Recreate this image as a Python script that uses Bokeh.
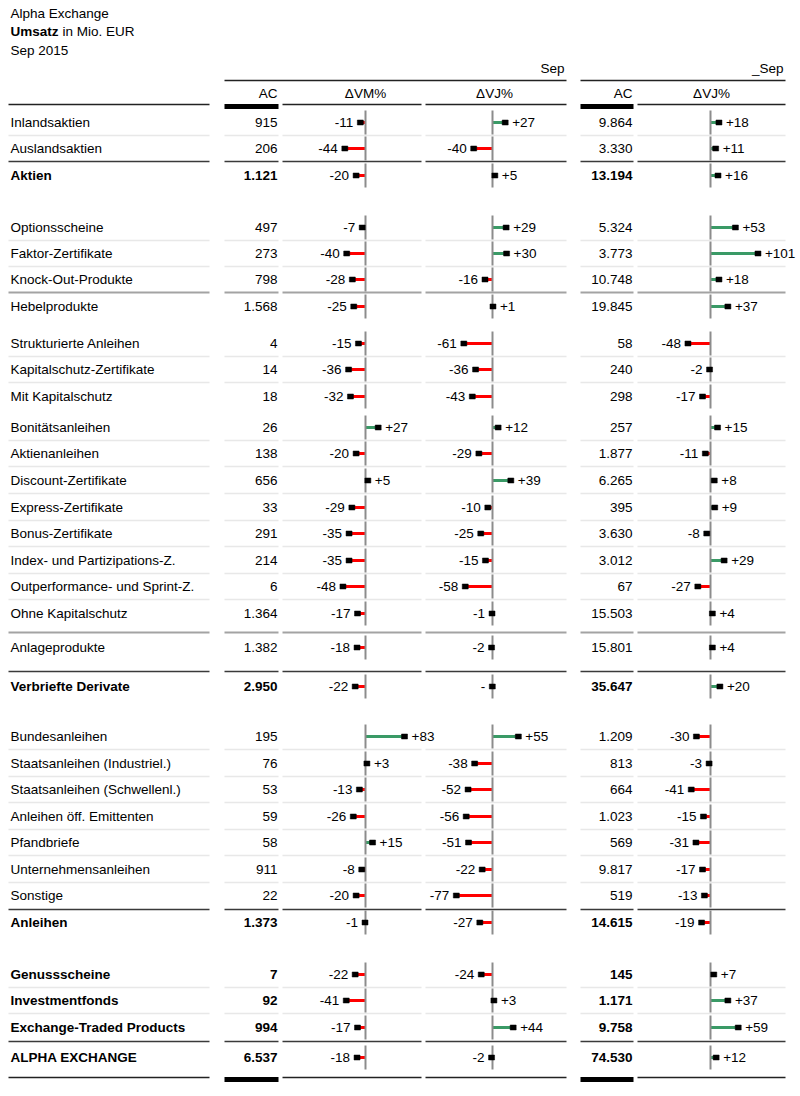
from bokeh.plotting import figure
from bokeh.models import Range1d, ColumnDataSource
from bokeh.core.properties import value
from bokeh.embed import file_html
from bokeh.resources import INLINE

# ---------------- data ----------------
labels = ["Inlandsaktien", "Auslandsaktien", "Aktien",
          "Optionsscheine", "Faktor-Zertifikate", "Knock-Out-Produkte", "Hebelprodukte",
          "Strukturierte Anleihen", "Kapitalschutz-Zertifikate", "Mit Kapitalschutz",
          "Bonitätsanleihen", "Aktienanleihen", "Discount-Zertifikate", "Express-Zertifikate",
          "Bonus-Zertifikate", "Index- und Partizipations-Z.", "Outperformance- und Sprint-Z.",
          "Ohne Kapitalschutz", "Anlageprodukte", "Verbriefte Derivate",
          "Bundesanleihen", "Staatsanleihen (Industriel.)", "Staatsanleihen (Schwellenl.)",
          "Anleihen öff. Emittenten", "Pfandbriefe", "Unternehmensanleihen", "Sonstige", "Anleihen",
          "Genussscheine", "Investmentfonds", "Exchange-Traded Products", "ALPHA EXCHANGE"]
bold_rows = ["Aktien", "Verbriefte Derivate", "Anleihen", "Genussscheine",
             "Investmentfonds", "Exchange-Traded Products", "ALPHA EXCHANGE"]
ac_month = [915, 206, 1121, 497, 273, 798, 1568, 4, 14, 18, 26, 138, 656, 33, 291, 214, 6,
            1364, 1382, 2950, 195, 76, 53, 59, 58, 911, 22, 1373, 7, 92, 994, 6537]
d_vm = [-11, -44, -20, -7, -40, -28, -25, -15, -36, -32, 27, -20, 5, -29, -35, -35, -48,
        -17, -18, -22, 83, 3, -13, -26, 15, -8, -20, -1, -22, -41, -17, -18]
d_vj = [27, -40, 5, 29, 30, -16, 1, -61, -36, -43, 12, -29, 39, -10, -25, -15, -58,
        -1, -2, -0.4, 55, -38, -52, -56, -51, -22, -77, -27, -24, 3, 44, -2]
ac_ytd = [9864, 3330, 13194, 5324, 3773, 10748, 19845, 58, 240, 298, 257, 1877, 6265, 395,
          3630, 3012, 67, 15503, 15801, 35647, 1209, 813, 664, 1023, 569, 9817, 519, 14615,
          145, 1171, 9758, 74530]
d_vj_ytd = [18, 11, 16, 53, 101, 18, 37, -48, -2, -17, 15, -11, 8, 9, -8, 29, -27, 4, 4, 20,
            -30, -3, -41, -15, -31, -17, -13, -19, 7, 37, 59, 12]

title_lines = ["Alpha Exchange", "Umsatz", "in Mio. EUR", "Sep 2015"]
period_labels = ["Sep", "_Sep"]
col_headers = ["AC", "ΔVM%", "ΔVJ%", "AC", "ΔVJ%"]

# ---------------- layout (page pixels) ----------------
W, H = 800, 1096
row_y = [122, 148, 175, 227, 253, 279, 306, 343, 369, 396, 427, 453, 480, 507, 533, 560, 586,
         613, 647, 686, 736, 763, 789, 816, 842, 869, 895, 922, 974, 1000, 1027, 1057]
cols = [(8, 209), (224, 278), (282, 421), (425, 566), (580, 633), (637, 785)]
seps = [(135, "light"), (161, "dark"), (240, "light"), (266, "light"), (292, "gray"),
        (356, "light"), (382, "light"),
        (440, "light"), (466, "light"), (493, "light"), (520, "light"), (546, "light"),
        (573, "light"), (599, "light"), (632, "gray"), (671, "dark"),
        (749, "light"), (776, "light"), (802, "light"), (829, "light"), (855, "light"),
        (882, "light"), (909, "dark"), (987, "light"), (1013, "light"), (1041, "dark")]
sep_style = {"light": ("#e8e8e8", 1.5), "gray": ("#a3a3a3", 2), "dark": ("#3a3a3a", 1.5)}
FONT = value("Liberation Sans")
FS = "13.5px"
PX_PER_PCT = 0.47
zero_x = {"vm": 365, "vj": 492, "vjy": 710}
GREEN, RED = "#3a9a66", "#ff0000"

p = figure(width=W, height=H, x_range=Range1d(0, W), y_range=Range1d(H, 0),
           output_backend="svg", toolbar_location=None, min_border=0,
           x_axis_type=None, y_axis_type=None, background_fill_color="white")
p.grid.visible = False
p.outline_line_color = None
for k, z in zero_x.items():
    p.extra_x_ranges[k] = Range1d((0 - z) / PX_PER_PCT, (W - z) / PX_PER_PCT)


def txt(x, y, t, align="left", bold=False, color="black", baseline="middle"):
    p.text(x=[x], y=[y], text=[t], text_font=FONT, text_font_size=FS,
           text_font_style="bold" if bold else "normal", text_align=align,
           text_baseline=baseline, text_color=color)


# title
txt(10, 13, title_lines[0])
txt(10, 31, title_lines[1], bold=True)
txt(62, 31, title_lines[2])
txt(10, 50, title_lines[3])

# period headers
txt(564, 68, period_labels[0], align="right")
txt(783, 68, period_labels[1], align="right")
p.segment(x0=[224, 580], x1=[566, 785], y0=[80, 80], y1=[80, 80], line_color="#222222", line_width=1.5)

# column headers
txt(277, 93, col_headers[0], align="right")
txt(zero_x["vm"], 93, col_headers[1], align="center")
txt(zero_x["vj"] + 2, 93, col_headers[2], align="center")
txt(632, 93, col_headers[3], align="right")
txt(zero_x["vjy"] + 1, 93, col_headers[4], align="center")


def rule(y, thick_ac=True):
    for i, (a, b) in enumerate(cols):
        if thick_ac and i in (1, 4):
            p.quad(left=[a], right=[b], top=[y - 0.5], bottom=[y + 4.5], fill_color="black", line_color=None)
        else:
            p.segment(x0=[a], x1=[b], y0=[y], y1=[y], line_color="#222222", line_width=1.5)


rule(104)
rule(1077)

for y, st in seps:
    c, w = sep_style[st]
    for a, b in cols:
        p.segment(x0=[a], x1=[b], y0=[y], y1=[y], line_color=c, line_width=w)


def fmt_int(v):
    return f"{v:,}".replace(",", ".")


def fmt_pct(v):
    r = int(round(v))
    if r == 0:
        return "-"
    return f"{r:+d}"


# row labels and AC values
for i, lab in enumerate(labels):
    b = lab in bold_rows
    txt(10, row_y[i], lab, bold=b)
    txt(277, row_y[i], fmt_int(ac_month[i]), align="right", bold=b)
    txt(632, row_y[i], fmt_int(ac_ytd[i]), align="right", bold=b)

# bar columns
for rng, vals in (("vm", d_vm), ("vj", d_vj), ("vjy", d_vj_ytd)):
    src = ColumnDataSource(dict(
        y=row_y, v=vals, zero=[0] * len(vals),
        y0=[y - 12 for y in row_y], y1=[y + 12 for y in row_y],
        color=[GREEN if v > 0 else RED for v in vals],
        lab=[fmt_pct(v) for v in vals],
        off=[7 if v > 0 else -7 for v in vals],
        align=["left" if v > 0 else "right" for v in vals],
    ))
    p.segment(x0="zero", x1="v", y0="y", y1="y", line_color="color", line_width=3,
              source=src, x_range_name=rng)
    p.segment(x0="zero", x1="zero", y0="y0", y1="y1", line_color="#8c8c8c", line_width=2,
              source=src, x_range_name=rng)
    p.rect(x="v", y="y", width=6, height=5, width_units="screen", height_units="screen",
           fill_color="black", line_color="black", line_width=0.5, source=src, x_range_name=rng)
    p.text(x="v", y="y", text="lab", x_offset="off", text_align="align", text_baseline="middle",
           text_font=FONT, text_font_size=FS, text_color="black", source=src, x_range_name=rng)

open("out.html", "w").write(file_html(p, INLINE))
